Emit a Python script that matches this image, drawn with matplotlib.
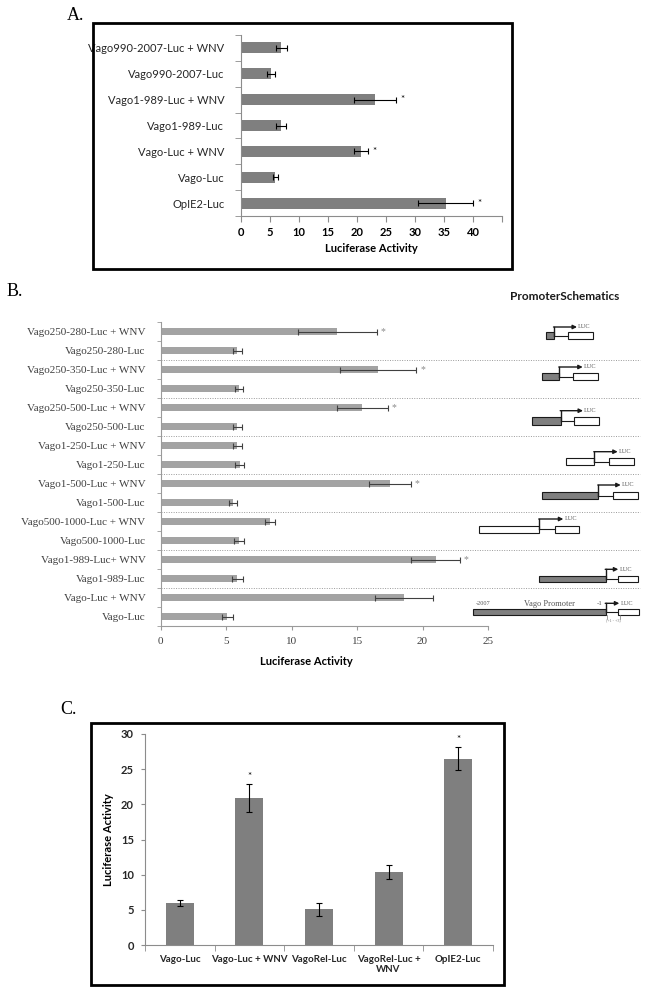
import numpy as np
import matplotlib
matplotlib.use('Agg')
import matplotlib.pyplot as plt
from matplotlib.patches import Rectangle

# ---- panel A data (top to bottom)
a_labels = ['Vago990-2007-Luc + WNV', 'Vago990-2007-Luc', 'Vago1-989-Luc + WNV',
            'Vago1-989-Luc', 'Vago-Luc + WNV', 'Vago-Luc', 'OpIE2-Luc']
a_values = [6.9, 5.2, 23.1, 6.9, 20.7, 5.9, 35.3]
a_errors = [0.95, 0.7, 3.6, 0.8, 1.25, 0.45, 4.7]
a_star = [False, False, True, False, True, False, True]

# ---- panel B data (top to bottom)
b_labels = ['Vago250-280-Luc + WNV', 'Vago250-280-Luc',
            'Vago250-350-Luc + WNV', 'Vago250-350-Luc',
            'Vago250-500-Luc + WNV', 'Vago250-500-Luc',
            'Vago1-250-Luc + WNV', 'Vago1-250-Luc',
            'Vago1-500-Luc + WNV', 'Vago1-500-Luc',
            'Vago500-1000-Luc + WNV', 'Vago500-1000-Luc',
            'Vago1-989-Luc+ WNV', 'Vago1-989-Luc',
            'Vago-Luc + WNV', 'Vago-Luc']
b_values = [13.5, 5.85, 16.6, 6.0, 15.4, 5.85, 5.85, 6.05,
            17.5, 5.55, 8.35, 6.0, 21.0, 5.85, 18.6, 5.1]
b_errors = [3.0, 0.35, 2.9, 0.3, 1.95, 0.35, 0.35, 0.35,
            1.6, 0.3, 0.4, 0.4, 1.85, 0.4, 2.2, 0.4]
b_star = [True, False, True, False, True, False, False, False,
          True, False, False, False, True, False, False, False]

# ---- panel C data
c_labels = ['Vago-Luc', 'Vago-Luc + WNV', 'VagoRel-Luc', 'VagoRel-Luc +\nWNV', 'OpIE2-Luc']
c_values = [6.0, 20.85, 5.07, 10.4, 26.5]
c_errors = [0.4, 2.0, 0.9, 0.97, 1.6]
c_star = [False, True, False, False, True]

SANS = 'Lato'
SERIF = 'Liberation Serif'
W, H = 647, 993


def rect(l, t, r, b):
    return [l / W, 1 - b / H, (r - l) / W, (b - t) / H]


fig = plt.figure(figsize=(W / 100, H / 100), dpi=100)

# ================= A =================
axA = fig.add_axes(rect(241, 35, 502, 216))
ya = np.arange(len(a_labels))
axA.barh(ya, a_values, height=0.42, color='#7f7f7f', xerr=a_errors,
         error_kw=dict(ecolor='black', elinewidth=0.8, capsize=2.5, capthick=0.8))
for i in ya:
    if a_star[i]:
        axA.text(a_values[i] + a_errors[i] + 1.1, i, '*', ha='center', va='center',
                 fontsize=7, family=SANS)
axA.set_ylim(len(a_labels) - 0.5, -0.5)
axA.set_xlim(0, 45)
axA.set_xticks(np.arange(0, 46, 5))
axA.set_xticklabels([str(t) for t in range(0, 41, 5)] + [''], fontsize=8,
                    fontweight='bold', family=SANS)
axA.set_yticks(ya)
axA.set_yticklabels(a_labels, fontsize=8, family=SANS, color='#262626')
axA.set_yticks(np.arange(-0.5, len(a_labels), 1), minor=True)
axA.tick_params(axis='y', which='major', length=0, pad=12)
axA.tick_params(axis='y', which='minor', length=4, color='#8c8c8c')
axA.tick_params(axis='x', length=4, color='#8c8c8c', pad=4)
for s in ['top', 'right']:
    axA.spines[s].set_visible(False)
for s in ['left', 'bottom']:
    axA.spines[s].set_color('#8c8c8c')
axA.text(0.498, -0.182, 'Luciferase Activity', transform=axA.transAxes, ha='center',
         va='center', fontsize=8, fontweight='bold', family=SANS)

# ================= B =================
axB = fig.add_axes(rect(160.7, 322, 488, 626))
yb = np.arange(len(b_labels))
axB.barh(yb, b_values, height=0.42, color='#a3a3a3', xerr=b_errors,
         error_kw=dict(ecolor='#404040', elinewidth=0.8, capsize=2, capthick=0.8))
for i in yb:
    if b_star[i]:
        axB.text(b_values[i] + b_errors[i] + 0.5, i, '*', ha='center', va='center',
                 fontsize=7, family=SERIF, color='#8a8a8a')
axB.set_ylim(len(b_labels) - 0.5, -0.5)
axB.set_xlim(0, 25)
axB.set_xticks(np.arange(0, 26, 5))
axB.set_xticklabels([str(t) for t in range(0, 26, 5)], fontsize=8, family=SERIF,
                    color='#404040')
axB.set_yticks(yb)
axB.set_yticklabels(b_labels, fontsize=8, family=SERIF, color='#404040')
axB.set_yticks(np.arange(-0.5, len(b_labels), 1), minor=True)
axB.tick_params(axis='y', which='major', length=0, pad=11)
axB.tick_params(axis='y', which='minor', length=3, color='#9a9a9a')
axB.tick_params(axis='x', length=3, color='#9a9a9a', pad=5)
for s in ['top', 'right']:
    axB.spines[s].set_visible(False)
for s in ['left', 'bottom']:
    axB.spines[s].set_color('#9a9a9a')
# dotted separators between construct pairs, running under the schematics
for k in np.arange(1.5, len(b_labels) - 1, 2):
    axB.plot([0, 1.464], [k, k], transform=axB.get_yaxis_transform(), ls=(0, (1, 1.5)),
             lw=0.7, color='#9a9a9a', clip_on=False)
axB.text(0.446, -0.118, 'Luciferase Activity', transform=axB.transAxes, ha='center',
         va='center', fontsize=8, fontweight='bold', family=SANS)

# ================= C =================
axC = fig.add_axes(rect(145, 734, 493, 945))
xc = np.arange(len(c_labels))
axC.bar(xc, c_values, width=0.4, color='#7f7f7f', yerr=c_errors,
        error_kw=dict(ecolor='black', elinewidth=0.8, capsize=2, capthick=0.8))
for i in xc:
    if c_star[i]:
        axC.text(i, c_values[i] + c_errors[i] + 1.05, '*', ha='center', va='center',
                 fontsize=7, family=SANS)
axC.set_xlim(-0.5, len(c_labels) - 0.5)
axC.set_ylim(0, 30)
axC.set_yticks(np.arange(0, 31, 5))
axC.set_yticklabels([str(t) for t in range(0, 31, 5)], fontsize=8, fontweight='bold',
                    family=SANS, color='#262626')
axC.set_xticks(xc)
axC.set_xticklabels(c_labels, fontsize=7, fontweight='bold', family=SANS, color='#262626',
                    linespacing=1.25)
axC.set_xticks(np.arange(-0.5, len(c_labels), 1), minor=True)
axC.tick_params(axis='x', which='major', length=0, pad=7)
axC.tick_params(axis='x', which='minor', length=4, color='#8c8c8c')
axC.tick_params(axis='y', length=3, color='#8c8c8c', pad=5)
for s in ['top', 'right']:
    axC.spines[s].set_visible(False)
for s in ['left', 'bottom']:
    axC.spines[s].set_color('#8c8c8c')
axC.text(-0.106, 0.498, 'Luciferase Activity', transform=axC.transAxes, rotation=90,
         ha='center', va='center', fontsize=8, fontweight='bold', family=SANS)

# ================= overlay: frames, panel letters, schematics =================
ov = fig.add_axes([0, 0, 1, 1], facecolor='none')
ov.set_xlim(0, W)
ov.set_ylim(H, 0)
ov.axis('off')
ov.add_patch(Rectangle((93, 23), 419, 246, fill=False, lw=2, ec='black'))
ov.add_patch(Rectangle((90.7, 723), 413.3, 262, fill=False, lw=2, ec='black'))
ov.text(67, 15, 'A.', fontsize=13, family=SERIF, va='center', ha='left')
ov.text(7, 291.5, 'B.', fontsize=13, family=SERIF, va='center', ha='left')
ov.text(60, 710, 'C.', fontsize=13, family=SERIF, va='center', ha='left')
ov.text(565, 296, 'PromoterSchematics', fontsize=8.5, fontweight='bold', family=SANS,
        ha='center', va='center', color='#1a1a1a')

# promoter left/right, promoter fill, LUC left/right, box top/bottom, arrow level, arrow tip
schem = [
    (546, 554, '#7f7f7f', 568, 593, 332, 339, 327, 577),
    (541.7, 559.3, '#7f7f7f', 573.3, 598.3, 373, 380, 367, 582.7),
    (532.3, 560.7, '#7f7f7f', 574.3, 599, 417, 425, 410.7, 583),
    (565.7, 594.3, 'white', 609.3, 634, 458.3, 465.3, 451.7, 617.7),
    (541.7, 598.3, '#7f7f7f', 613.3, 638.3, 492, 499, 485, 620.7),
    (479, 539.3, 'white', 555, 579.3, 525.5, 533, 519, 563.3),
    (539, 605.7, '#7f7f7f', 617.7, 638.3, 576, 582, 569.3, 618.3),
    (472.7, 605.7, '#7f7f7f', 618.3, 639.3, 609, 614.5, 603.3, 619.3),
]
for pl, pr, fc, ll, lr, top, bot, ay, tip in schem:
    ov.add_patch(Rectangle((pl, top), pr - pl, bot - top, fc=fc, ec='#1a1a1a', lw=0.8))
    ov.add_patch(Rectangle((ll, top), lr - ll, bot - top, fc='white', ec='#1a1a1a', lw=0.8))
    mid = (top + bot) / 2
    ov.plot([pr, ll], [mid, mid], color='#1a1a1a', lw=0.8)
    ov.plot([pr, pr], [mid, ay], color='#1a1a1a', lw=1.0)
    ov.annotate('', xy=(tip, ay), xytext=(pr - 0.5, ay),
                arrowprops=dict(arrowstyle='-|>', lw=1.0, color='#1a1a1a',
                                mutation_scale=6, shrinkA=0, shrinkB=0))
    ov.text(tip + 1, ay, 'LUC', fontsize=4.5, family=SERIF, color='#555555',
            ha='left', va='center')

ov.text(476, 603.5, '-2007', fontsize=4.5, family=SERIF, color='#555555', ha='left',
        va='center')
ov.text(550, 603.5, 'Vago Promoter', fontsize=6, family=SERIF, color='#555555',
        ha='center', va='center')
ov.text(603, 603.5, '-1', fontsize=5, family=SERIF, color='#555555', ha='right',
        va='center')
ov.plot([606.5, 606.5], [615, 619], color='#777777', lw=0.5)
ov.plot([620, 620], [615, 619], color='#777777', lw=0.5)
ov.text(613, 620.5, '(+1 - +3)', fontsize=3, family=SERIF, color='#777777',
        ha='center', va='center')

fig.savefig('out.png', dpi=100)
